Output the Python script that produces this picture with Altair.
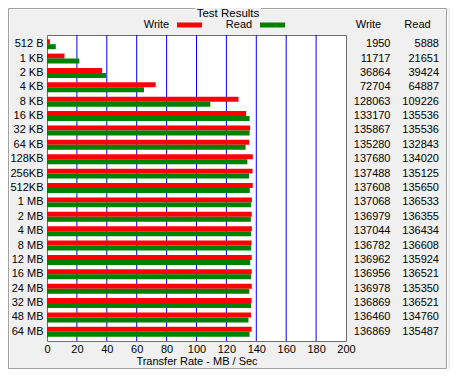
import altair as alt
import pandas as pd

sizes = ["512 B", "1 KB", "2 KB", "4 KB", "8 KB", "16 KB", "32 KB", "64 KB", "128KB", "256KB", "512KB",
         "1 MB", "2 MB", "4 MB", "8 MB", "12 MB", "16 MB", "24 MB", "32 MB", "48 MB", "64 MB"]
write_kb = [1950, 11717, 36864, 72704, 128063, 133170, 135867, 135280, 137680, 137488, 137608,
            137068, 136979, 137044, 136782, 136962, 136956, 136978, 136869, 136460, 136869]
read_kb = [5888, 21651, 39424, 64887, 109226, 135536, 135536, 132843, 134020, 135125, 135650,
           136533, 136355, 136434, 136608, 135924, 136521, 135350, 136521, 134760, 135487]
series = ["Write", "Read"]
series_colors = ["#ff0000", "#008000"]
x_ticks = [0, 20, 40, 60, 80, 100, 120, 140, 160, 180, 200]
grid_vals = [20, 40, 60, 80, 100, 120, 140, 160, 180]

W, H = 299, 306
FONT = "Liberation Sans"
FS = 11

rows = []
for s, w, r in zip(sizes, write_kb, read_kb):
    rows.append({"size": s, "series": "Write", "mbs": w / 1000.0, "kb": w})
    rows.append({"size": s, "series": "Read", "mbs": r / 1000.0, "kb": r})
bars_df = pd.DataFrame(rows)
tbl_df = pd.DataFrame({"size": sizes, "w": [str(v) for v in write_kb], "r": [str(v) for v in read_kb]})
one = pd.DataFrame({"a": [0]})

yscale = alt.Scale(domain=sizes, paddingInner=0, paddingOuter=0.14)
xscale = alt.Scale(domain=[0, 200], nice=False, zero=True)

x_axis = alt.Axis(values=x_ticks, grid=False, ticks=False, domain=False, labelPadding=2,
                  labelOverlap=False, labelFlush=False, labelFontSize=FS, labelFont=FONT,
                  labelColor="black",
                  title="Transfer Rate - MB / Sec", titleFont=FONT, titleFontSize=FS,
                  titleFontWeight="normal", titleColor="black", titlePadding=1)

# group box (etched frame)
frame_white = alt.Chart(one).mark_rect(fillOpacity=0, stroke="#ffffff", strokeWidth=1).encode(
    x=alt.value(-37.5), x2=alt.value(400.5), y=alt.value(-25.5), y2=alt.value(334.5))
frame_gray = alt.Chart(one).mark_rect(fillOpacity=0, stroke="#a0a0a0", strokeWidth=1).encode(
    x=alt.value(-38.5), x2=alt.value(399.5), y=alt.value(-26.5), y2=alt.value(333.5))
title_bg = alt.Chart(one).mark_rect(fill="#f0f0f0").encode(
    x=alt.value(148), x2=alt.value(214), y=alt.value(-27), y2=alt.value(-18))
title_txt = alt.Chart(one).mark_text(text="Test Results", font=FONT, fontSize=11.5, color="black",
                                     align="center", baseline="middle").encode(
    x=alt.value(181), y=alt.value(-21))

grid = alt.Chart(pd.DataFrame({"g": grid_vals})).mark_rule(color="#0000ff", strokeWidth=1).encode(
    x=alt.X("g:Q", scale=xscale, axis=x_axis), y=alt.value(0), y2=alt.value(H))

bars = alt.Chart(bars_df).mark_bar(opacity=1).encode(
    x=alt.X("mbs:Q", scale=xscale, axis=x_axis),
    y=alt.Y("size:N", scale=yscale, sort=sizes,
            axis=alt.Axis(title=None, ticks=False, domain=False, labelPadding=4, labelFontSize=FS,
                          labelFont=FONT, labelColor="black")),
    yOffset=alt.YOffset("series:N", sort=series,
                        scale=alt.Scale(domain=series, paddingInner=0, paddingOuter=0.44)),
    color=alt.Color("series:N", scale=alt.Scale(domain=series, range=series_colors), legend=None),
)

w_txt = alt.Chart(tbl_df).mark_text(font=FONT, fontSize=FS, color="black", align="right",
                                    baseline="middle").encode(
    y=alt.Y("size:N", scale=yscale, sort=sizes), x=alt.value(343.5), text="w:N")
r_txt = alt.Chart(tbl_df).mark_text(font=FONT, fontSize=FS, color="black", align="right",
                                    baseline="middle").encode(
    y=alt.Y("size:N", scale=yscale, sort=sizes), x=alt.value(392), text="r:N")

def label(txt, x, y):
    return alt.Chart(one).mark_text(text=txt, font=FONT, fontSize=FS, color="black",
                                    align="center", baseline="middle").encode(
        x=alt.value(x), y=alt.value(y))

hdr_w = label("Write", 321.5, -10)
hdr_r = label("Read", 370.5, -10)
leg_w = label("Write", 109.5, -10)
leg_r = label("Read", 192, -10)
sw_w = alt.Chart(one).mark_rect(fill=series_colors[0]).encode(
    x=alt.value(130), x2=alt.value(155), y=alt.value(-12.5), y2=alt.value(-7.5))
sw_r = alt.Chart(one).mark_rect(fill=series_colors[1]).encode(
    x=alt.value(213), x2=alt.value(238), y=alt.value(-12.5), y2=alt.value(-7.5))

chart = alt.layer(frame_white, frame_gray, title_bg, title_txt, grid, bars, w_txt, r_txt,
                  hdr_w, hdr_r, leg_w, leg_r, sw_w, sw_r).properties(
    width=W, height=H,
    autosize=alt.AutoSizeParams(type="none"),
    padding={"left": 39, "top": 27, "right": 104, "bottom": 28},
).configure(background="#f0f0f0", font=FONT).configure_view(
    fill="white", stroke="#6e6e6e", strokeWidth=1)

chart.save("out.html", embed_options={"renderer": "svg", "actions": False})
